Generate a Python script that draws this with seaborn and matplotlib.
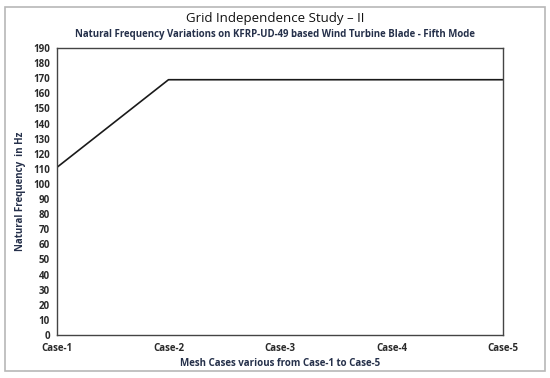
import matplotlib
matplotlib.use('Agg')
import matplotlib.pyplot as plt
import matplotlib.patches as mpatches
import pandas as pd
import seaborn as sns

cases = ['Case-1', 'Case-2', 'Case-3', 'Case-4', 'Case-5']
frequency = [111, 169, 169, 169, 169]
y_ticks = list(range(0, 200, 10))

sns.set_style('white')
plt.rcParams['font.family'] = ['Open Sans', 'DejaVu Sans']

df = pd.DataFrame({'case': cases, 'freq': frequency})
df['pos'] = range(len(cases))

fig = plt.figure(figsize=(5.5, 3.78), dpi=100)
ax = fig.add_axes([0.1036, 0.1138, 0.8109, 0.7592])

sns.lineplot(data=df, x='pos', y='freq', ax=ax, color='#1a1a1a', linewidth=1.2)

ax.set_xlim(0, len(cases) - 1)
ax.set_ylim(0, 190)
ax.set_xticks(df['pos'])
ax.set_xticklabels(cases)
ax.set_yticks(y_ticks)
ax.tick_params(axis='both', length=0, labelsize=7, colors='#2a2a2a')
ax.tick_params(axis='x', pad=6)
ax.tick_params(axis='y', pad=5)
for lab in ax.get_xticklabels() + ax.get_yticklabels():
    lab.set_fontweight('bold')
for sp in ax.spines.values():
    sp.set_color('#444444')
    sp.set_linewidth(1.0)

ax.set_xlabel('Mesh Cases various from Case-1 to Case-5', fontsize=7,
              color='#25304a', fontweight='bold', labelpad=3)
ax.set_ylabel('Natural Frequency  in Hz', fontsize=7,
              color='#25304a', fontweight='bold', labelpad=5)

fig.text(0.5, 0.952, 'Grid Independence Study \u2013 II', ha='center', va='center',
         fontsize=9.5, color='#111111')
fig.text(0.5, 0.91, 'Natural Frequency Variations on KFRP-UD-49 based Wind Turbine Blade - Fifth Mode',
         ha='center', va='center', fontsize=6.9, color='#25304a', fontweight='bold')

border = mpatches.Rectangle((5 / 550, 7 / 378), 540 / 550, 364 / 378, transform=fig.transFigure,
                            fill=False, edgecolor='#b8b8b8', linewidth=1.2)
fig.patches.append(border)

fig.savefig('out.png', dpi=100)
